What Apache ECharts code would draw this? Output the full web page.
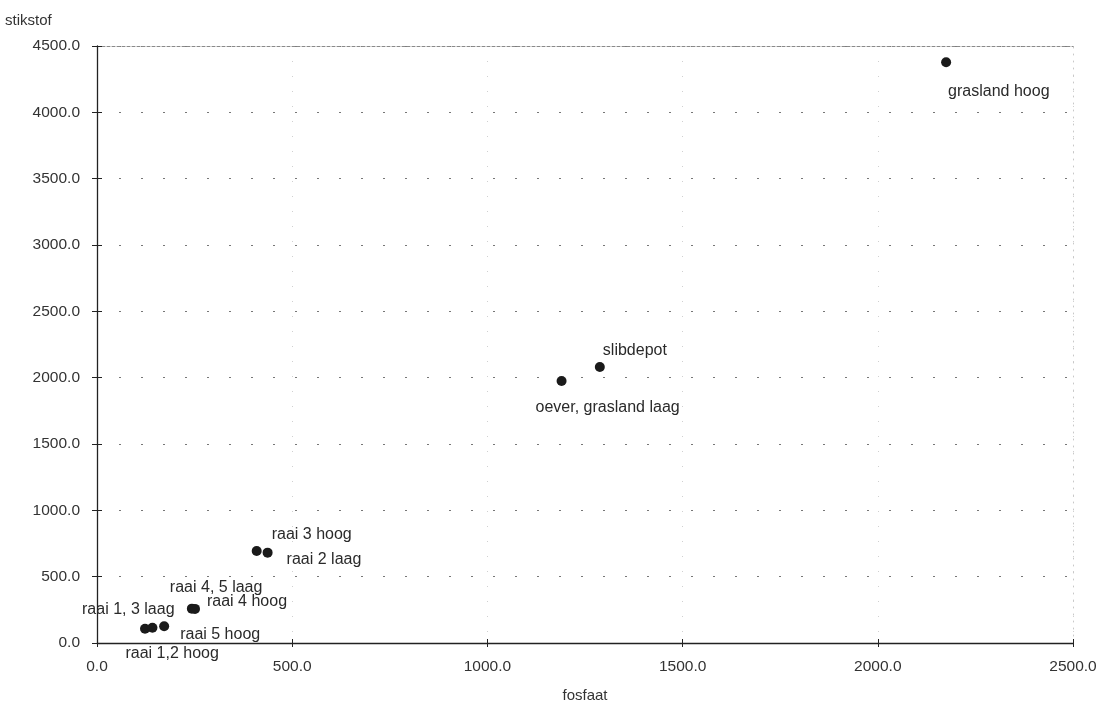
<!DOCTYPE html>
<html>
<head>
<meta charset="utf-8">
<script src="https://cdn.jsdelivr.net/npm/echarts@6/dist/echarts.min.js"></script>
<style>
  html, body { margin: 0; padding: 0; background: #fff; }
  #chart { width: 1104px; height: 705px; }
</style>
</head>
<body>
<div id="chart"></div>
<script>
// Sample locations with phosphate (fosfaat) and nitrogen (stikstof) contents
const names = [
  'raai 1, 3 laag', 'raai 1,2 hoog', 'raai 5 hoog',
  'raai 4, 5 laag', 'raai 4 hoog',
  'raai 3 hoog', 'raai 2 laag',
  'oever, grasland laag', 'slibdepot', 'grasland hoog'
];
const fosfaat = [123, 142, 172, 243, 251, 409, 437, 1190, 1288, 2175];
const stikstof = [108, 115, 126, 259, 257, 693, 681, 1975, 2080, 4378];

const xTicks = [0, 500, 1000, 1500, 2000, 2500];
const yTicks = [0, 500, 1000, 1500, 2000, 2500, 3000, 3500, 4000, 4500];

// Label placement around each point, in pixels from the point centre
const labelOffsets = {
  'raai 1, 3 laag': [-63, -19],
  'raai 1,2 hoog': [-27, 26],
  'raai 5 hoog': [16, 8],
  'raai 4, 5 laag': [-22, -21],
  'raai 4 hoog': [12, -7],
  'raai 3 hoog': [15, -16],
  'raai 2 laag': [19, 7],
  'oever, grasland laag': [-26, 27],
  'slibdepot': [3, -16],
  'grasland hoog': [2, 29]
};

const SYM = 10;
const seriesData = names.map((n, i) => {
  const off = labelOffsets[n];
  return {
    name: n,
    value: [fosfaat[i], stikstof[i]],
    label: {
      show: true,
      formatter: n,
      position: [off[0] + SYM / 2, off[1] + SYM / 2],
      align: 'left',
      verticalAlign: 'middle'
    }
  };
});

const font = 'Liberation Sans, Arial, sans-serif';
const xMin = xTicks[0], xMax = xTicks[xTicks.length - 1];
const yMin = yTicks[0], yMax = yTicks[yTicks.length - 1];
const fmt = v => v.toFixed(1);

const chart = echarts.init(document.getElementById('chart'), null, { renderer: 'canvas' });
chart.setOption({
  animation: false,
  backgroundColor: '#ffffff',
  grid: {
    left: 97, right: 31, top: 46, bottom: 62,
    containLabel: false,
    outerBoundsMode: 'none'
  },
  xAxis: [{
    // main horizontal axis
    type: 'value', min: xMin, max: xMax, interval: 500,
    name: 'fosfaat',
    nameLocation: 'middle',
    nameGap: 45,
    nameTextStyle: { fontFamily: font, fontSize: 15, color: '#333' },
    axisLine: { show: true, onZero: false, lineStyle: { color: '#222', width: 1.3 } },
    axisTick: { show: true, length: 4, lineStyle: { color: '#222' } },
    axisLabel: { fontFamily: font, fontSize: 15.5, color: '#333', margin: 16, formatter: fmt },
    splitLine: { show: true, lineStyle: { color: '#d0d0d0', type: [1, 14], width: 1 } }
  }, {
    // tick marks on the inner side, so ticks cross the axis line
    type: 'value', min: xMin, max: xMax, interval: 500, position: 'bottom',
    axisLine: { show: false, onZero: false },
    axisTick: { show: true, inside: true, length: 4, lineStyle: { color: '#222' } },
    axisLabel: { show: false },
    splitLine: { show: false }
  }, {
    // dotted upper frame
    type: 'value', min: xMin, max: xMax, position: 'top',
    axisLine: { show: true, onZero: false, lineStyle: { color: '#8a8a8a', type: [3, 2], width: 1 } },
    axisTick: { show: false },
    axisLabel: { show: false },
    splitLine: { show: false }
  }],
  yAxis: [{
    // main vertical axis
    type: 'value', min: yMin, max: yMax, interval: 500,
    name: 'stikstof',
    nameLocation: 'end',
    nameGap: 0,
    nameTextStyle: {
      fontFamily: font, fontSize: 15, color: '#333',
      align: 'left', padding: [0, 0, 18, -92]
    },
    axisLine: { show: true, onZero: false, lineStyle: { color: '#222', width: 1.3 } },
    axisTick: { show: true, length: 5, lineStyle: { color: '#222' } },
    axisLabel: { fontFamily: font, fontSize: 15.5, color: '#333', margin: 17, formatter: fmt },
    splitLine: { show: true, lineStyle: { color: '#777', type: [2, 20], width: 1 } }
  }, {
    type: 'value', min: yMin, max: yMax, interval: 500, position: 'left',
    axisLine: { show: false, onZero: false },
    axisTick: { show: true, inside: true, length: 5, lineStyle: { color: '#222' } },
    axisLabel: { show: false },
    splitLine: { show: false }
  }, {
    // faint dotted right frame
    type: 'value', min: yMin, max: yMax, position: 'right',
    axisLine: { show: true, onZero: false, lineStyle: { color: '#c8c8c8', type: [1, 6], width: 1 } },
    axisTick: { show: false },
    axisLabel: { show: false },
    splitLine: { show: false }
  }],
  series: [{
    type: 'scatter',
    xAxisIndex: 0,
    yAxisIndex: 0,
    symbol: 'circle',
    symbolSize: SYM,
    itemStyle: { color: '#1a1a1a', opacity: 1 },
    label: { fontFamily: font, fontSize: 16, color: '#2a2a2a' },
    emphasis: { disabled: true },
    data: seriesData
  }]
});
</script>
</body>
</html>
